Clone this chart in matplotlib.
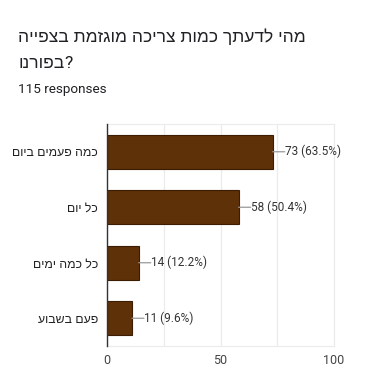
import matplotlib
matplotlib.use("Agg")
import matplotlib.pyplot as plt

plt.rcParams['font.family'] = ['Roboto', 'DejaVu Sans']

title_line1 = "מהי לדעתך כמות צריכה מוגזמת בצפייה"
title_line2_word = "בפורנו"
subtitle = "115 responses"
categories = ["כמה פעמים ביום", "כל יום", "כל כמה ימים", "פעם בשבוע"]
counts = [73, 58, 14, 11]
percents = [63.5, 50.4, 12.2, 9.6]
xticks = [0, 50, 100]

HEB = ['Liberation Sans', 'DejaVu Sans']


def visual(s):
    return s[::-1]


fig = plt.figure(figsize=(3.8, 3.7), dpi=100)
fig.text(18/380, 1 - 37/370, visual(title_line1), fontsize=12.5, color='#202124',
         ha='left', va='center', family=HEB)
t2 = fig.text(18/380, 1 - 63/370, visual(title_line2_word), fontsize=12.5, color='#202124',
              ha='left', va='center', family=HEB)
r = fig.canvas.get_renderer()
bb = t2.get_window_extent(renderer=r)
# question mark follows the Hebrew word on its right (LTR paragraph)
fig.text(bb.x1 / fig.bbox.width, 1 - 63/370, "?", fontsize=12.5, color='#202124',
         ha='left', va='center')
fig.text(18/380, 1 - 89/370, subtitle, fontsize=9.7, color='#202124', ha='left', va='center')

ax = fig.add_axes([107/380, 1 - 346/370, (334 - 107)/380, (346 - 124)/370])
y = list(range(len(categories)))
bars = ax.barh(y, counts, height=0.62, color='#5e3109', edgecolor='#3b1d04', linewidth=0.8, zorder=3)
ax.set_xlim(0, 100)
ax.set_ylim(len(categories) - 0.5, -0.5)
ax.set_yticks(y)
ax.set_yticklabels([visual(c) for c in categories], fontsize=8.8, color='#222222',
                   family=HEB)
ax.set_xticks(xticks)
ax.set_xticklabels([str(t) for t in xticks], fontsize=9, color='#444444')
ax.set_xticks([25, 75], minor=True)
ax.tick_params(axis='both', which='both', length=0)
ax.tick_params(axis='y', pad=6.5)
ax.tick_params(axis='x', pad=6)
ax.grid(axis='x', which='both', color='#ebebeb', linewidth=0.9, zorder=0)
for s in ['top', 'right', 'bottom']:
    ax.spines[s].set_color('#ebebeb')
ax.spines['left'].set_color('#333333')
ax.spines['left'].set_linewidth(1.0)
ax.spines['left'].set_zorder(4)

for yi, c, p in zip(y, counts, percents):
    ax.annotate('', xy=(c, yi), xytext=(c + 5.3, yi),
                arrowprops=dict(arrowstyle='-', color='#999999', lw=0.9, shrinkA=0, shrinkB=0))
    ax.text(c + 5.4, yi, f"{c} ({p}%)", fontsize=8.5, color='#333333', va='center', ha='left')

fig.savefig("out.png", dpi=100)
